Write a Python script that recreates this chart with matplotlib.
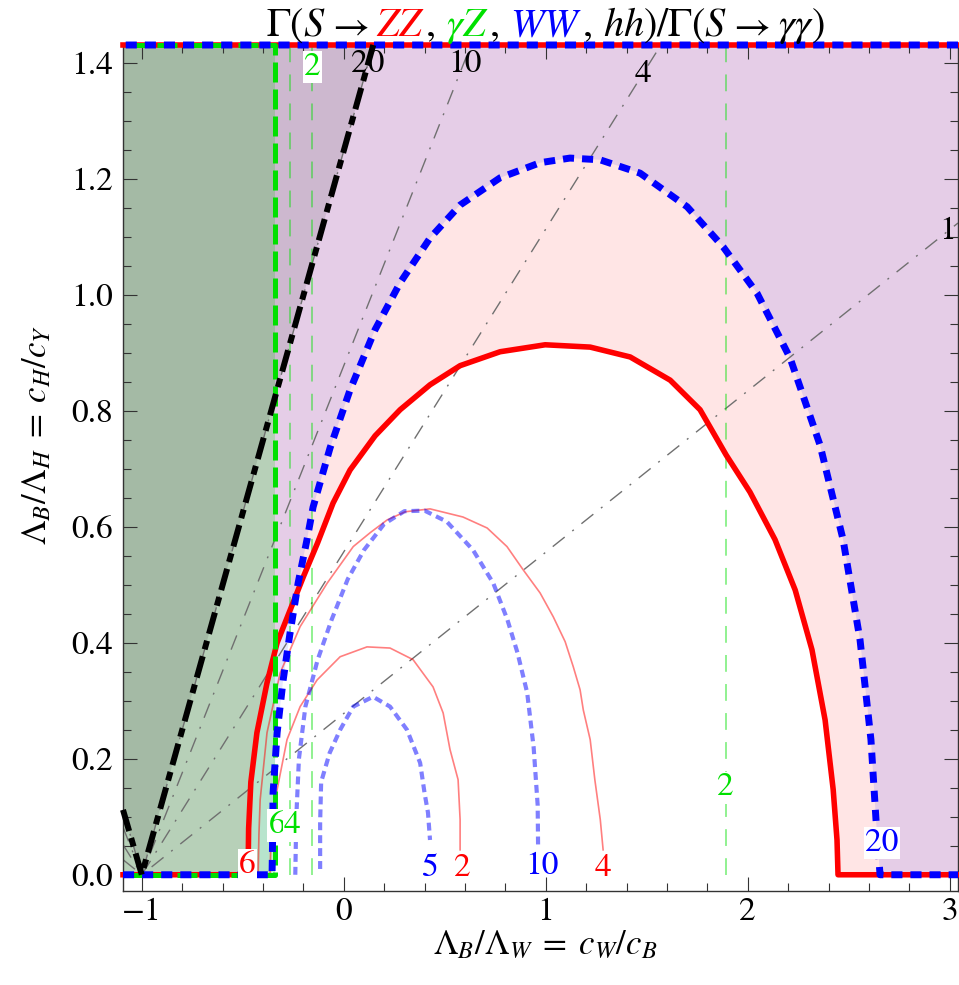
import matplotlib
matplotlib.use("Agg")
import matplotlib.pyplot as plt
from matplotlib.ticker import MultipleLocator
from matplotlib.offsetbox import TextArea, HPacker, AnchoredOffsetbox, DrawingArea

plt.rcParams['font.family'] = ['STIXGeneral', 'DejaVu Serif']
plt.rcParams['mathtext.fontset'] = 'stix'

RED = '#ff0000'
GREEN = '#00e000'
BLUE = '#0000ff'

# plot domain
XMIN, XMAX = -1.093, 3.041
YMAX = 1.431

#%% data
# ZZ / gamma-gamma contours (thick = 6, thin = 4 and 2)
zz6_x = [-0.474, -0.471, -0.46, -0.43, -0.38, -0.33, -0.265, -0.20, -0.13, -0.053, 0.031, 0.155,
         0.279, 0.427, 0.576, 0.774, 0.997, 1.22, 1.418, 1.616, 1.764, 1.893, 2.011, 2.135,
         2.235, 2.318, 2.383, 2.423, 2.442, 2.447]
zz6_y = [0.0, 0.08, 0.16, 0.245, 0.331, 0.40, 0.457, 0.514, 0.572, 0.641, 0.698, 0.757,
         0.802, 0.845, 0.878, 0.902, 0.914, 0.910, 0.893, 0.853, 0.802, 0.724, 0.660, 0.578,
         0.491, 0.388, 0.267, 0.147, 0.060, 0.0]
zz4_x = [-0.424, -0.42, -0.414, -0.38, -0.315, -0.216, -0.082, 0.047, 0.131, 0.215, 0.304,
         0.427, 0.59, 0.71, 0.808, 0.888, 0.972, 1.037, 1.096, 1.136, 1.17, 1.186, 1.22,
         1.243, 1.27, 1.284]
zz4_y = [0.0, 0.07, 0.129, 0.245, 0.348, 0.428, 0.503, 0.566, 0.59, 0.612, 0.626,
         0.631, 0.617, 0.598, 0.566, 0.526, 0.486, 0.445, 0.402, 0.359, 0.319, 0.284, 0.233,
         0.164, 0.095, 0.043]
zz2_x = [-0.365, -0.36, -0.34, -0.281, -0.216, -0.132, -0.018, 0.115, 0.229, 0.343, 0.442,
         0.492, 0.526, 0.566, 0.576, 0.576]
zz2_y = [0.0, 0.07, 0.129, 0.233, 0.29, 0.336, 0.376, 0.393, 0.391, 0.371, 0.324,
         0.279, 0.216, 0.164, 0.095, 0.043]

# WW / gamma-gamma contours (thick = 20, thin = 10 and 5)
ww20_x = [-0.355, -0.352, -0.35, -0.33, -0.30, -0.266, -0.226, -0.182, -0.152, -0.068, 0.031,
          0.155, 0.279, 0.427, 0.576, 0.774, 0.972, 1.12, 1.269, 1.467, 1.70, 1.878, 2.046,
          2.21, 2.358, 2.472, 2.556, 2.61, 2.635, 2.655]
ww20_y = [0.0, 0.07, 0.141, 0.245, 0.336, 0.417, 0.503, 0.578, 0.634, 0.736, 0.836,
          0.940, 1.021, 1.098, 1.155, 1.202, 1.228, 1.236, 1.233, 1.210, 1.152, 1.083, 1.003,
          0.891, 0.741, 0.578, 0.405, 0.233, 0.095, 0.0]
ww10_x = [-0.24, -0.235, -0.222, -0.19, -0.13, -0.06, 0.02, 0.1, 0.2, 0.3, 0.4, 0.51, 0.64,
          0.74, 0.81, 0.86, 0.908, 0.94, 0.96, 0.962]
ww10_y = [0.0, 0.1, 0.2, 0.29, 0.37, 0.44, 0.51, 0.56, 0.605, 0.627, 0.628, 0.609, 0.56,
          0.503, 0.44, 0.383, 0.314, 0.22, 0.12, 0.05]
ww5_x = [-0.117, -0.117, -0.112, -0.07, -0.018, 0.047, 0.145, 0.229, 0.313, 0.378, 0.40, 0.417, 0.427]
ww5_y = [0.01, 0.09, 0.16, 0.21, 0.25, 0.29, 0.307, 0.29, 0.25, 0.193, 0.141, 0.107, 0.06]

# gamma Z / gamma-gamma contours: vertical lines (first one is the bound, 6)
za_x = [-0.34, -0.265, -0.155, 1.89]

# hh / gamma-gamma contours: straight lines through the vertex
hh_levels = [1, 4, 10, 20]
hh_vertex = (-1.0, 0.0)
hh_left_y = [0.026, 0.052, 0.082, 0.112]       # at x = XMIN
hh_right_x = [3.041, 1.57, 0.63, 0.146]
hh_right_y = [1.124, 1.431, 1.431, 1.431]

# contour labels: text, x, y, colour, white box
labels = [
    ('20', 0.12, 1.397, 'black', False),
    ('10', 0.60, 1.397, 'black', False),
    ('4', 1.48, 1.38, 'black', False),
    ('1', 2.99, 1.11, 'black', False),
    ('2', -0.155, 1.393, GREEN, True),
    ('6', -0.478, 0.017, RED, True),
    ('6', -0.33, 0.085, GREEN, True),
    ('4', -0.255, 0.085, GREEN, True),
    ('5', 0.427, 0.012, BLUE, False),
    ('2', 0.586, 0.012, RED, False),
    ('10', 0.982, 0.014, BLUE, False),
    ('4', 1.284, 0.012, RED, False),
    ('2', 1.887, 0.15, GREEN, True),
    ('20', 2.665, 0.055, BLUE, True),
]

nan = float('nan')


def outside_dome(xs, ys):
    # region of the domain outside a dome that sits on y = 0
    return ([XMIN] + list(xs) + [XMAX, XMAX, XMIN, XMIN],
            [0.0] + list(ys) + [0.0, YMAX, YMAX, 0.0])


def dome_edge(xs, ys):
    # boundary line: bottom edge + dome, then the top edge
    return ([XMIN] + list(xs) + [XMAX, nan, XMAX, XMIN],
            [0.0] + list(ys) + [0.0, nan, YMAX, YMAX])


fig = plt.figure(figsize=(9.59, 9.85), dpi=100)
ax = fig.add_axes([123 / 959, 1 - 891 / 985, 835 / 959, 846 / 985])

# excluded regions
zx, zy = outside_dome(zz6_x, zz6_y)
wx, wy = outside_dome(ww20_x, ww20_y)
gx = [XMIN, za_x[0], za_x[0], XMIN, XMIN]
gy = [0.0, 0.0, YMAX, YMAX, 0.0]
bx = [XMIN, hh_vertex[0], hh_right_x[-1], XMIN, XMIN]
by = [hh_left_y[-1], hh_vertex[1], hh_right_y[-1], YMAX, hh_left_y[-1]]

ax.fill(zx, zy, color=RED, alpha=0.1, lw=0, zorder=1)
ax.fill(wx, wy, color=BLUE, alpha=0.1, lw=0, zorder=1)
ax.fill(gx, gy, color=GREEN, alpha=0.2, lw=0, zorder=1)
ax.fill(bx, by, color='black', alpha=0.1, lw=0, zorder=1)

# thin contours
for yl, xr, yr in zip(hh_left_y, hh_right_x, hh_right_y):
    ax.plot([XMIN, hh_vertex[0], xr], [yl, hh_vertex[1], yr], color='#707070', lw=1.0,
            dashes=(11, 7, 1.4, 7), zorder=2)
for xv in za_x[1:]:
    ax.plot([xv, xv], [0, YMAX], color=GREEN, alpha=0.55, lw=1.1, dashes=(11, 8), zorder=2)
ax.plot(zz4_x, zz4_y, color=RED, alpha=0.5, lw=1.2, zorder=2)
ax.plot(zz2_x, zz2_y, color=RED, alpha=0.5, lw=1.2, zorder=2)
ax.plot(ww10_x, ww10_y, color=BLUE, alpha=0.5, lw=3, dashes=(1.9, 1.2), zorder=2)
ax.plot(ww5_x, ww5_y, color=BLUE, alpha=0.5, lw=3, dashes=(1.9, 1.2), zorder=2)

# bounds (top edge drawn over the frame)
ex, ey = dome_edge(zz6_x, zz6_y)
ax.plot(ex, ey, color=RED, lw=4, zorder=3, clip_on=False)
ax.plot(gx[:-1], gy[:-1], color=GREEN, lw=3.6, dashes=(4, 1.4), zorder=3.1, clip_on=False)
ex, ey = dome_edge(ww20_x, ww20_y)
ax.plot(ex, ey, color=BLUE, lw=5, dashes=(1.6, 1.15), zorder=3.2, clip_on=False)
ax.plot(bx[:-2], by[:-2], color='black', lw=4.3, dashes=(3.7, 1.2, 1.5, 1.2), zorder=3.3,
        clip_on=False)

for txt, x, y, c, boxed in labels:
    bb = dict(facecolor='white', edgecolor='none', pad=1) if boxed else None
    ax.text(x, y, txt, color=c, fontsize=24, ha='center', va='center', bbox=bb, zorder=5)

ax.set_xlim(XMIN, XMAX)
ax.set_ylim(-0.028, YMAX)
ax.set_xticks([-1, 0, 1, 2, 3])
ax.set_yticks([0.0, 0.2, 0.4, 0.6, 0.8, 1.0, 1.2, 1.4])
ax.set_yticklabels(['0.0', '0.2', '0.4', '0.6', '0.8', '1.0', '1.2', '1.4'])
ax.xaxis.set_minor_locator(MultipleLocator(0.2))
ax.yaxis.set_minor_locator(MultipleLocator(0.05))
ax.tick_params(which='both', direction='in', top=True, right=True, labelsize=24,
               color='#333333', width=0.8, pad=7)
ax.tick_params(axis='x', pad=5)
ax.tick_params(which='major', length=10)
ax.tick_params(which='minor', length=5.5)
for s in ax.spines.values():
    s.set_color('#333333')
    s.set_linewidth(1.0)

fig.text(545 / 959, 1 - 946 / 985, r'$\Lambda_B/\Lambda_W\;=\;c_W/c_B$', fontsize=25,
         ha='center', va='center')
fig.text(38 / 959, 1 - 435 / 985, r'$\Lambda_B/\Lambda_H\;=\;c_H/c_Y$', fontsize=25,
         ha='center', va='center', rotation=90)

# multi-coloured title, pieces and gaps (points)
parts = [(r'$\Gamma(S$', 'black'), 1, (r'$\rightarrow$', 'black'), 5, (r'$ZZ$', RED),
         (r'$,$', 'black'), 8, (r'$\gamma Z$', GREEN), (r'$,$', 'black'), 8,
         (r'$WW$', BLUE), (r'$,$', 'black'), 8, (r'$hh)/\Gamma(S$', 'black'), 1,
         (r'$\rightarrow$', 'black'), 5, (r'$\gamma\gamma)$', 'black')]
boxes = []
for p in parts:
    if isinstance(p, tuple):
        boxes.append(TextArea(p[0], textprops=dict(color=p[1], fontsize=29)))
    else:
        boxes.append(DrawingArea(p, 1))
title = HPacker(children=boxes, align='baseline', pad=0, sep=0)
fig.add_artist(AnchoredOffsetbox(loc='center', child=title, pad=0, borderpad=0, frameon=False,
                                 bbox_to_anchor=(545 / 959, 1 - 26 / 985),
                                 bbox_transform=fig.transFigure))

fig.savefig('out.png', dpi=100)
